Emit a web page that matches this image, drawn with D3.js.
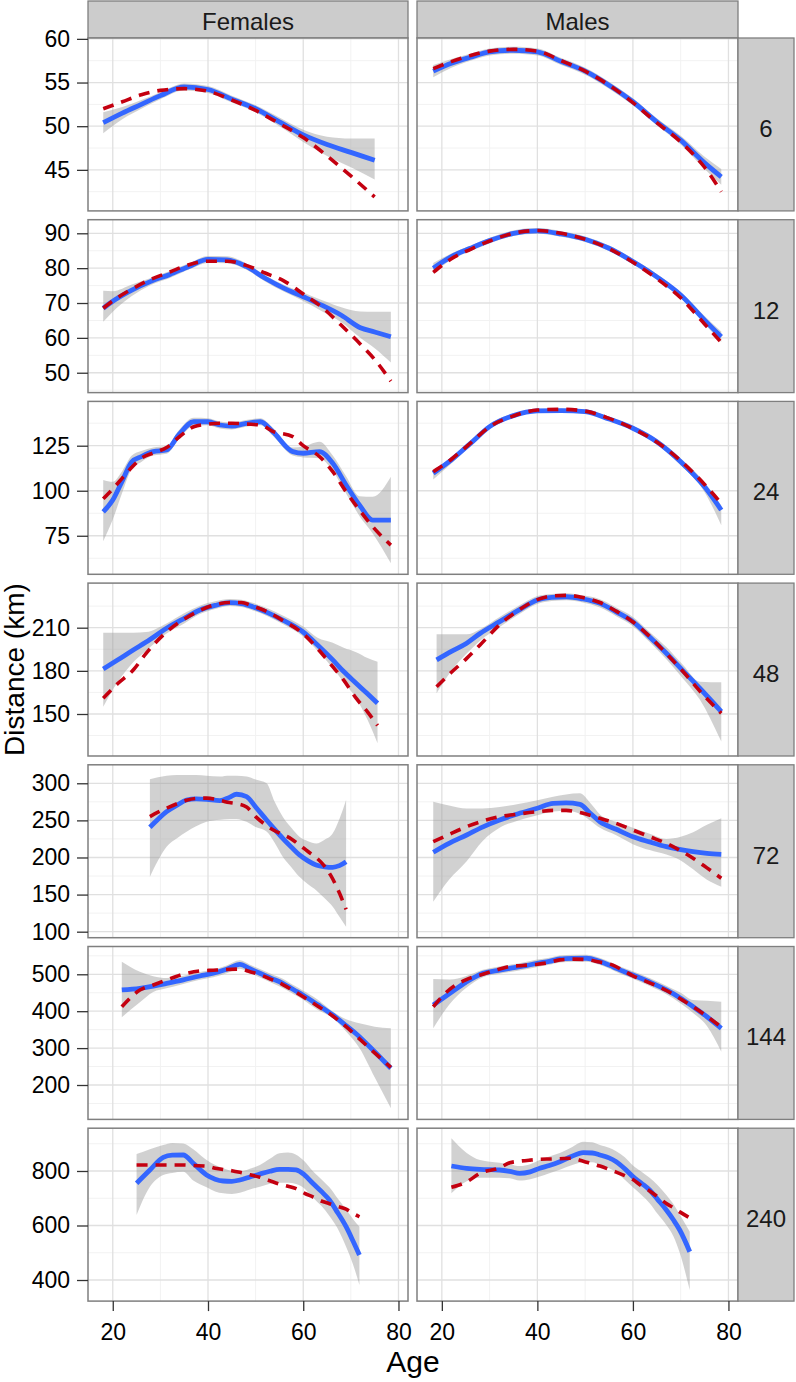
<!DOCTYPE html>
<html>
<head>
<meta charset="utf-8">
<script src="https://cdn.jsdelivr.net/npm/d3@7"></script>
<style>
  body { margin: 0; background: #fff; }
  text { font-family: "Liberation Sans", Arial, sans-serif; }
</style>
</head>
<body>
<div id="container"></div>
<script>
/**
 * DATA
 * every panel entry is [Females, Males]
 * */
const sexes = ["Females", "Males"];
const durations = ["6", "12", "24", "48", "72", "144", "240"];
const xTicks = [20, 40, 60, 80];
const xLimits = [14.8, 82];
const yTicks = [
  [45, 50, 55, 60],
  [50, 60, 70, 80, 90],
  [75, 100, 125],
  [150, 180, 210],
  [100, 150, 200, 250, 300],
  [200, 300, 400, 500],
  [400, 600, 800]
];
const yLimits = [
  [40.3, 60.1], [44.3, 93.9], [53.6, 149.6], [120.8, 241],
  [91.9, 324.9], [106.8, 575.3], [322.6, 957]
];

const ages = [
  [[18,22,26,30,35,40,45,50,55,60,65,70,75],
   [18.2,22,26,30,35,40,45,50,55,60,65,70,75,78.5]],
  [[18,20,24,28,32,36,40,44,48,52,56,60,64,68,72,75,78.4],
   [18.2,22,26,30,35,40,45,50,55,60,65,70,75,78.5]],
  [[18,20,22,24,26,28.5,31.3,34,37,40,42.5,45,48,51,53.6,57.8,60,63.4,66.2,69,71.8,74.6,78.4],
   [18.2,22,26,30,35,40,45,50,55,60,65,70,75,78.5]],
  [[18,21,24.3,27,31.3,35,38.3,41.5,44.6,47,49.4,52.5,55.7,59.9,63,66.2,68.5,71.1,73.5,75.6],
   [18.9,22,25.2,28,32.1,36,40,43,46.1,49.5,53.1,56.5,60,63.5,67,70.5,74,78.5]],
  [[27.8,29.5,31.3,33.5,35.5,37.5,39.7,42.5,44.5,46,48.1,50,52.3,54,55.7,57.5,59.2,61,62.7,64.5,66.2,67.6,69],
   [18.2,21.5,25.2,28.5,32.1,36,40,43.3,46,48.9,51,53.1,56.5,60,63.5,67,70,72.6,75.5,78.5]],
  [[21.9,25.7,28.5,31.3,34.8,38.3,41.1,43.9,46.7,48.8,50.9,53.3,55.7,58,59.9,63,66.2,69,71.8,75,78.4],
   [18.2,21.7,25,28.6,31.5,34.2,37,40,42.5,44.7,47.5,50.3,53,55.8,58,60,63.5,67,70,72.6,75.5,78.5]],
  [[25,27.8,30.6,32.5,34.8,36.9,39.7,41.5,43.2,45,46.7,48.8,50.9,53,55,56.8,58.5,60.3,62,63.8,65.5,67.2,69,70.4,71.8],
   [22,25.2,28,32.1,34.2,36.3,38.5,40.5,42.5,44.7,47,49.6,51.5,53.1,55,56.5,58.3,60,61.8,63.5,65.2,67,68.5,69.8,71.9]]
];

// blue smooth
const fits = [
  [[50.4,51.5,52.5,53.5,54.5,54.2,53.1,52.0,50.5,49.0,47.9,47.0,46.1],
   [56.3,57.2,57.9,58.5,58.7,58.5,57.4,56.3,54.7,52.8,50.5,48.4,45.8,44.2]],
  [[68.5,70.5,73.7,76.2,78.2,80.5,82.5,82.4,80.5,77.1,74.2,71.8,69.3,66.5,62.9,61.7,60.3],
   [80.0,83.3,85.7,87.9,90.0,90.7,89.8,88.3,85.7,81.9,77.5,72.3,65.1,60.3]],
  [[88.3,94.8,105.5,116,118.9,121.7,122.6,131.5,138.3,138.3,136.5,135.9,137.4,138.3,132.8,121.7,120.8,121.7,115.2,103.2,92.1,83.7,83.7],
   [109.7,117.1,126.3,135.6,141.7,144.3,144.5,143.9,139.8,134.7,127.2,116.1,102.2,89.3]],
  [[181.3,187.5,194.5,200,209.6,216.5,222.3,225.5,227.4,226.8,224.6,220.5,215.3,207.2,198,187.6,179.5,171.4,164,157.5],
   [187.6,193.5,199.2,206,214.2,222,229.2,231,231.5,230,226.9,221,214.2,203.5,192.2,180,167.9,151.7]],
  [[240.7,251.5,261.7,270.5,277.5,279,278.4,276.6,281,285.2,282,268,250.5,238,225.9,214,203.4,195.5,189.9,187.5,186.8,189,194.3],
   [207,219,230.3,241,250.5,259,266.3,273,273.5,271.7,260,248.2,238,228,221,214.6,210.5,207.8,205.5,204.3]],
  [[457.5,462,468,475.6,485,495.4,502.7,513.5,527,515,502.7,489,475.6,458,444,418,389.8,361,331,290,245.3],
   [416.8,448.5,478,502.7,510,516.3,522,529.8,535,541.5,543,543.4,535,520.6,508,498,479,457.5,435,412.2,385,353.7]],
  [[754.9,803.7,850.2,858,858.7,828.2,785.3,770,763.3,762,767,778,789,799,806.1,806,803.7,785,754.9,725,693.6,648,595.6,545,491.7],
   [818.3,809.8,806,803.7,799,791.4,797,809.8,820,834,852,867.2,866,858.7,848,834,808,779.1,755,730.3,695,656.9,620,583.5,503.9]]
];

// grey band, lower and upper edge
const lowers = [
  [[49.2,50.8,52.0,53.1,54.1,53.8,52.7,51.6,50.0,48.2,46.6,45.3,43.9],
   [55.6,56.7,57.5,58.1,58.3,58.1,57.0,55.9,54.3,52.4,50.1,47.9,45.1,43.3]],
  [[64.6,67.5,72.0,75.2,77.2,79.6,81.5,81.4,79.6,76.2,73.2,70.6,67.6,64.5,60.0,57.0,52.9],
   [78.5,82.4,84.9,87.1,89.2,89.9,89.0,87.5,84.9,81.1,76.7,71.5,64.0,58.8]],
  [[72,84,99,112,116,119.5,120.5,129,136,136.3,134.5,134,135.5,136.3,130.5,119.5,118.5,118,111,98.5,86,76.3,59.7],
   [106.2,115.1,124.8,134.4,140.7,143.3,143.5,142.9,138.8,133.5,125.7,114.1,99.2,80.9]],
  [[155.1,172,186,194,206,213,219.5,223,225,224.3,222,218,212.5,204,194,182,172,161,146,129.7],
   [164.4,180,192,201,210.5,219,226.5,228.5,229,227.5,224,218,211,200,188,174.5,160,130.8]],
  [[174.1,196,214.6,226,234.8,242,248.3,251,252,252,248,241,235,220,201,187,174,164,156,145,133.7,120,106.7],
   [140.4,170,195,222,240,250,257,262,263,259,250,240,230,218,210,204,196,184,170,160.7]],
  [[383.5,424,452,462,474,485,492,503,515,504,491,477,463,446,432,404,381,345,300,221,136.9],
   [353.7,420,462,492,500,506,512,520,526,532,534,534,526,511,498,488,468,446,421,395,360,290.2]],
  [[638.5,742,785,793,797,765,740,725,718,716,720,732,742,753,757,757,752,735,703,672,635,590,522,460,381.7],
   [718,762,775,775,773,765,770,780,792,805,820,832,832,822,810,795,768,740,712,682,642,602,560,500,363]]
];
const uppers = [
  [[51.6,52.2,53.0,53.9,54.9,54.6,53.5,52.4,51.0,49.6,48.8,48.6,48.6],
   [57.0,57.7,58.3,58.9,59.1,58.9,57.8,56.7,55.1,53.2,50.9,48.9,46.5,45.1]],
  [[73.5,73.4,75.3,77.2,79.2,81.4,83.5,83.4,81.4,78.0,75.2,73.0,70.8,68.8,67.6,67.5,67.5],
   [81.5,84.2,86.5,88.7,90.8,91.5,90.6,89.1,86.5,82.7,78.3,73.1,66.3,61.8]],
  [[106,105,111,119.5,122,124,124.8,134,140.5,140.3,138.5,138,139.3,140.3,135,124,124.5,127.2,119.5,108,97,96.7,107.8],
   [111.2,118.6,127.8,137.0,142.9,145.5,145.7,145.1,141.0,136.0,128.7,118.1,104.7,91.8]],
  [[206.5,206.5,206.5,207,213,220,225.3,228.3,230,229.5,227.3,223.5,218.5,211,203,199.5,196,193,189,186.4],
   [205.4,205.4,205.4,209,217.5,225,232,233.5,234,232.5,229.8,224,217.5,207,196.5,184,172.5,172.1]],
  [[305.4,308,310,311,311,311,310,309,310,310,309,305,300,275,255,240,228,222,219,224,232.6,252,277.5],
   [275.2,270,266,266,268,272,277,282,285,286.5,274,258,248,240,232,225,228,234,244,252.8]],
  [[534.2,507,495,490,496,506,513,524,538,526,514,501,488,470,456,432,399,378,367,358,353.7],
   [487.3,486,495,512,520,526,532,540,545,551,553,553,545,530,518,508,490,469,450,430,428,425.8]],
  [[862,880,895,903,901,880,840,822,810,800,798,808,822,845,865,868,860,835,800,770,740,700,660,625,595.6],
   [920,866,840,830,825,818,825,840,853,866,885,907,905,895,885,872,850,820,797,775,748,712,678,640,577]]
];

// red dashed fit
const linears = [
  [[52.0,52.8,53.6,54.1,54.3,54.0,53.0,51.8,50.3,48.7,46.6,44.3,41.9],
   [56.6,57.4,58.1,58.6,58.8,58.6,57.5,56.3,54.7,52.7,50.4,48.2,45.3,42.5]],
  [[68.5,70.6,74.0,76.8,78.9,81.0,82.0,82.0,80.8,78.6,76.3,72.6,68.7,63.6,58.2,53.8,47.6],
   [78.8,82.7,85.4,87.8,90.0,90.8,90.0,88.3,85.6,81.7,77.0,71.5,64.0,58.7]],
  [[95.5,101,107,113,118,121,124,130,135.5,137,137.5,137.5,137,136.5,133,130,125,119,110.6,99.4,89.3,80,69.8],
   [110.6,117.5,126.5,135.5,141.5,144.8,145.2,144.2,140.2,134.5,127.0,116.6,103.5,93.0]],
  [[161,171,180.6,192.2,207,216,222,226,227.5,227.5,225,221,215,206,195.5,182.9,173.5,161,151.5,142],
   [169,179,188.7,198,212,222,229.5,232,232.5,231,227.5,221.5,214,204,192,179.5,166,150.5]],
  [[255,261,266.5,272.5,277,279.5,280,277,274,272.5,268,255,243,236,231,225,217,208,200,188,171,152,130],
   [221.3,231,241.5,249,255,258.5,261.7,263.5,263.5,260.5,257,252.8,246,237,228,219,209,199,186,172]],
  [[412.2,457.5,471,484.6,500,509,511,513,514,507,499,486,472,455,440,414,387,358,325,287,248],
   [412,460,485,500,512,521,524,527,532,539,541,540,533,525,510,496,477,456,433,412,386,357]],
  [[822,822,822,822,822,820,818,810,805,801,795,786,777,764,752,744,735,718,705,690,680,670,660,645,632],
   [740.2,760,791.4,812,830,836,840,842.8,844,845,846.5,836,826,818,806,796,783,769,745,727,705,681,665,650,628]]
];

/**
 * LAYOUT
 * */
const width = 796, height = 1382;
const colX = [88, 417], colW = [320, 321];
const top0 = 38, panelH = 172.9, gapY = 8.8;
const stripX = 738, stripW = 56, stripTop = 1;
const border = "#7f7f7f", stripFill = "#cccccc";

const svg = d3.select("#container")
  .append("svg")
  .attr("width", width)
  .attr("height", height);

// top strips
sexes.forEach((sex, c) => {
  svg.append("rect")
    .attr("x", colX[c]).attr("y", stripTop)
    .attr("width", colW[c]).attr("height", top0 - stripTop)
    .attr("fill", stripFill).attr("stroke", border).attr("stroke-width", 1.3);
  svg.append("text")
    .attr("x", colX[c] + colW[c] / 2).attr("y", 30)
    .attr("text-anchor", "middle")
    .attr("font-size", 24).attr("fill", "#1a1a1a")
    .text(sex);
});

durations.forEach((dur, r) => {
  const y0 = top0 + r * (panelH + gapY);
  const y = d3.scaleLinear().domain(yLimits[r]).range([panelH, 0]);
  const yt = yTicks[r], step = yt[1] - yt[0];
  const minorY = d3.range(yt[0] - step / 2, yt[yt.length - 1] + step, step)
    .filter(v => v > yLimits[r][0] && v < yLimits[r][1]);

  sexes.forEach((sex, c) => {
    const x = d3.scaleLinear().domain(xLimits).range([0, colW[c]]);
    const g = svg.append("g").attr("transform", `translate(${colX[c]},${y0})`);
    const clipId = `clip-${r}-${c}`;
    g.append("clipPath").attr("id", clipId)
      .append("rect").attr("width", colW[c]).attr("height", panelH);

    g.append("rect").attr("width", colW[c]).attr("height", panelH).attr("fill", "#fff");

    // grid
    g.selectAll(".minor-y").data(minorY).join("line")
      .attr("x1", 0).attr("x2", colW[c])
      .attr("y1", d => y(d)).attr("y2", d => y(d))
      .attr("stroke", "#f2f2f2").attr("stroke-width", 1);
    g.selectAll(".minor-x").data([30, 50, 70]).join("line")
      .attr("x1", d => x(d)).attr("x2", d => x(d))
      .attr("y1", 0).attr("y2", panelH)
      .attr("stroke", "#f2f2f2").attr("stroke-width", 1);
    g.selectAll(".major-y").data(yt).join("line")
      .attr("x1", 0).attr("x2", colW[c])
      .attr("y1", d => y(d)).attr("y2", d => y(d))
      .attr("stroke", "#e0e0e0").attr("stroke-width", 1.3);
    g.selectAll(".major-x").data(xTicks).join("line")
      .attr("x1", d => x(d)).attr("x2", d => x(d))
      .attr("y1", 0).attr("y2", panelH)
      .attr("stroke", "#e0e0e0").attr("stroke-width", 1.3);

    const pts = ages[r][c].map((a, i) => ({
      age: a,
      fit: fits[r][c][i],
      lo: lowers[r][c][i],
      hi: uppers[r][c][i],
      lin: linears[r][c][i]
    }));

    const layer = g.append("g").attr("clip-path", `url(#${clipId})`);

    layer.append("path").datum(pts)
      .attr("d", d3.area().curve(d3.curveMonotoneX)
        .x(d => x(d.age)).y0(d => y(d.lo)).y1(d => y(d.hi)))
      .attr("fill", "#999999").attr("fill-opacity", 0.45);

    layer.append("path").datum(pts)
      .attr("d", d3.line().curve(d3.curveMonotoneX).x(d => x(d.age)).y(d => y(d.fit)))
      .attr("fill", "none").attr("stroke", "#3366ff").attr("stroke-width", 4.8)
      .attr("stroke-linejoin", "round");

    layer.append("path").datum(pts)
      .attr("d", d3.line().curve(d3.curveMonotoneX).x(d => x(d.age)).y(d => y(d.lin)))
      .attr("fill", "none").attr("stroke", "#c40010").attr("stroke-width", 3.6)
      .attr("stroke-dasharray", "11,8");

    g.append("rect").attr("width", colW[c]).attr("height", panelH)
      .attr("fill", "none").attr("stroke", border).attr("stroke-width", 1.5);

    if (c === 0) {
      const ax = g.append("g")
        .call(d3.axisLeft(y).tickValues(yt).tickSize(11).tickPadding(7));
      ax.select(".domain").remove();
      ax.selectAll("line").attr("stroke", "#333").attr("stroke-width", 1.3);
      ax.selectAll("text").attr("font-size", 23).attr("fill", "#000")
        .attr("font-family", "Liberation Sans, Arial, sans-serif");
    }
    if (r === durations.length - 1) {
      const ax = g.append("g").attr("transform", `translate(0,${panelH})`)
        .call(d3.axisBottom(x).tickValues(xTicks).tickSize(10).tickPadding(13));
      ax.select(".domain").remove();
      ax.selectAll("line").attr("stroke", "#333").attr("stroke-width", 1.3);
      ax.selectAll("text").attr("font-size", 23).attr("fill", "#000")
        .attr("font-family", "Liberation Sans, Arial, sans-serif");
    }
  });

  // right strip
  svg.append("rect")
    .attr("x", stripX).attr("y", y0)
    .attr("width", stripW).attr("height", panelH)
    .attr("fill", stripFill).attr("stroke", border).attr("stroke-width", 1.3);
  svg.append("text")
    .attr("x", stripX + stripW / 2).attr("y", y0 + panelH / 2 + 4)
    .attr("dy", "0.35em")
    .attr("text-anchor", "middle")
    .attr("font-size", 24).attr("fill", "#1a1a1a")
    .text(dur);
});

// axis titles
svg.append("text")
  .attr("x", (colX[0] + stripX) / 2).attr("y", 1372)
  .attr("text-anchor", "middle")
  .attr("font-size", 30).attr("fill", "#000")
  .text("Age");

svg.append("text")
  .attr("transform", `translate(24,${top0 + (7 * panelH + 6 * gapY) / 2}) rotate(-90)`)
  .attr("text-anchor", "middle")
  .attr("font-size", 28).attr("fill", "#000")
  .text("Distance (km)");
</script>
</body>
</html>
